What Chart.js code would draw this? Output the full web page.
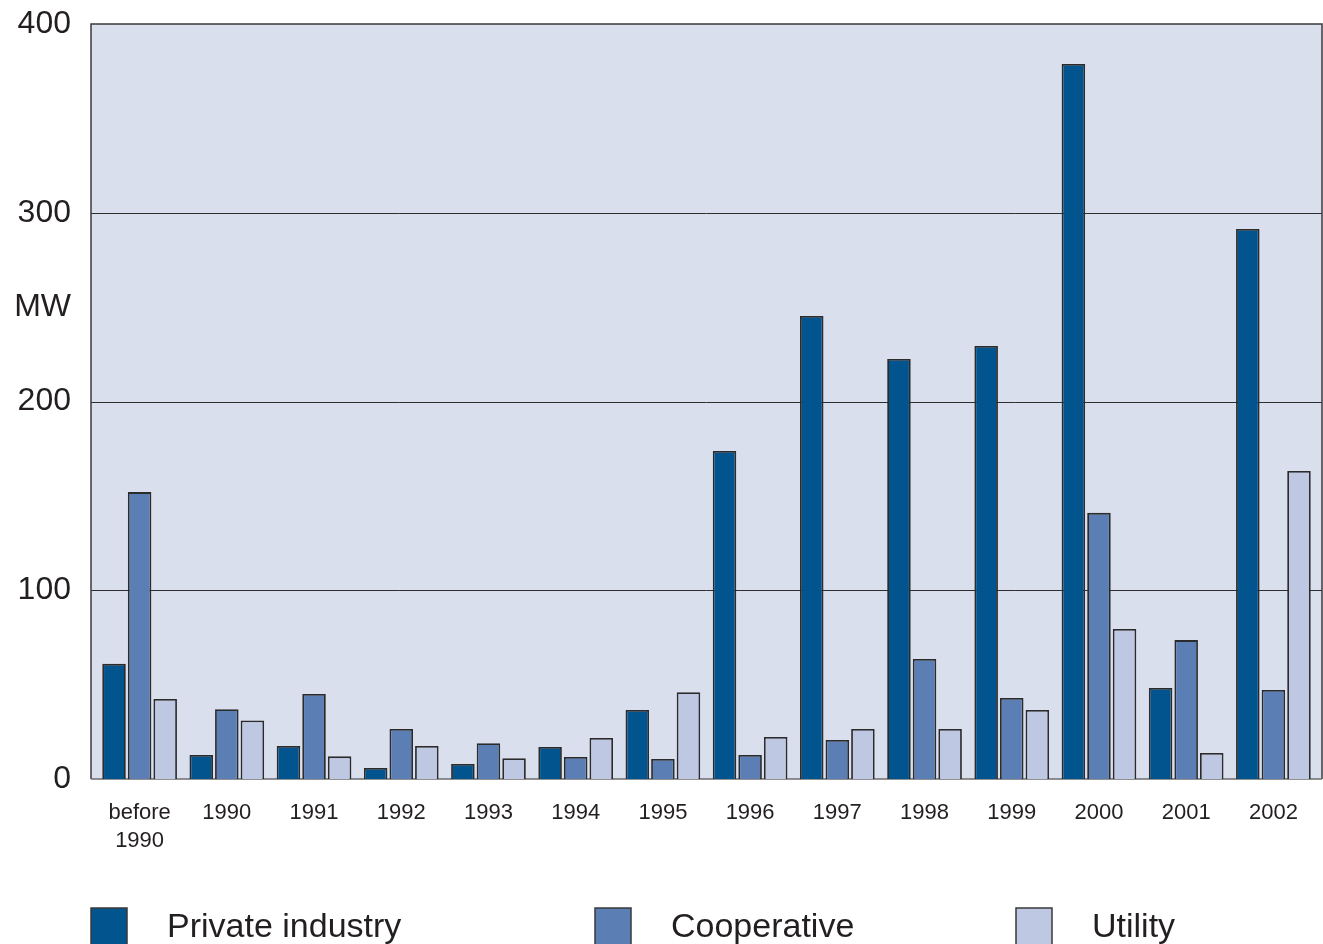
<!DOCTYPE html>
<html>
<head>
<meta charset="utf-8">
<script src="https://cdn.jsdelivr.net/npm/chart.js@4/dist/chart.umd.min.js"></script>
<style>
  html, body { margin: 0; padding: 0; background: #fff; }
  #wrap { position: relative; width: 1323px; height: 944px; }
</style>
</head>
<body>
<div id="wrap"><canvas id="mwChart"></canvas></div>
<script>
// Installed capacity per year (MW)
const years = [['before', '1990'], '1990', '1991', '1992', '1993', '1994', '1995',
  '1996', '1997', '1998', '1999', '2000', '2001', '2002'];
const privateIndustry = [61, 12.7, 17.5, 5.8, 8, 17, 36.6, 173.8, 245.3, 222.5, 229.4, 378.8, 48.2, 291.4];
const cooperative = [152, 37, 45, 26.5, 19, 11.7, 10.6, 12.7, 20.7, 63.6, 42.9, 141, 73.6, 47.2];
const utility = [42.4, 31, 12, 17.5, 11, 21.7, 46, 22.3, 26.5, 26.5, 36.6, 79.5, 13.8, 163.2];
const yTicks = [0, 100, 200, 300, 400];
const seriesNames = ['Private industry', 'Cooperative', 'Utility'];
const seriesColors = ['#02548f', '#5b7fb4', '#bec8e2'];

const fontFamily = '"Liberation Sans", Arial, sans-serif';
const textColor = '#231f20';
const inset = 5; // frame sits a little outside the category band

// plot background, grid lines, frame, y labels and the "MW" unit label
const plotFrame = {
  id: 'plotFrame',
  beforeDraw(chart) {
    const { ctx, chartArea: a } = chart;
    ctx.save();
    ctx.fillStyle = '#dadfee';
    ctx.fillRect(a.left - inset, a.top, a.right - a.left + 2 * inset, a.bottom - a.top);
    ctx.restore();
  },
  beforeDatasetsDraw(chart) {
    const { ctx, chartArea: a, scales } = chart;
    const yScale = scales.y;
    const l = a.left - inset, r = a.right + inset;
    ctx.save();
    ctx.strokeStyle = '#2e2e2e';
    ctx.lineWidth = 1;
    yScale.ticks.filter(t => t.value > 0 && t.value < 400).forEach(t => {
      const y = Math.round(yScale.getPixelForValue(t.value)) + 0.5;
      ctx.beginPath();
      ctx.moveTo(l, y);
      ctx.lineTo(r, y);
      ctx.stroke();
    });
    ctx.strokeStyle = '#3a3a3a';
    ctx.lineWidth = 1.5;
    ctx.beginPath();
    ctx.moveTo(l, a.bottom);
    ctx.lineTo(l, a.top);
    ctx.lineTo(r, a.top);
    ctx.lineTo(r, a.bottom);
    ctx.stroke();
    ctx.strokeStyle = '#6d6d6d';
    ctx.beginPath();
    ctx.moveTo(l, a.bottom);
    ctx.lineTo(r, a.bottom);
    ctx.stroke();

    ctx.fillStyle = textColor;
    ctx.font = '32px ' + fontFamily;
    ctx.textAlign = 'right';
    ctx.textBaseline = 'middle';
    yScale.ticks.forEach(t => {
      ctx.fillText(String(t.value), 71, yScale.getPixelForValue(t.value));
    });
    ctx.fillText('MW', 71, yScale.getPixelForValue(250));
    ctx.restore();
  }
};

// legend row at the bottom of the canvas
const bottomLegend = {
  id: 'bottomLegend',
  afterDraw(chart) {
    const { ctx } = chart;
    const xs = [91, 595, 1016];
    ctx.save();
    chart.data.datasets.forEach((ds, i) => {
      ctx.fillStyle = ds.backgroundColor;
      ctx.fillRect(xs[i], 908, 36, 40);
      ctx.strokeStyle = '#3a3a3a';
      ctx.lineWidth = 1.5;
      ctx.strokeRect(xs[i], 908, 36, 40);
      ctx.fillStyle = textColor;
      ctx.font = '34px ' + fontFamily;
      ctx.textAlign = 'left';
      ctx.textBaseline = 'middle';
      ctx.fillText(ds.label, xs[i] + 76, 928);
    });
    ctx.restore();
  }
};

const ctx = document.getElementById('mwChart').getContext('2d');
const mwChart = new Chart(ctx, {
  type: 'bar',
  data: {
    labels: years,
    datasets: [privateIndustry, cooperative, utility].map((vals, i) => ({
      label: seriesNames[i],
      data: vals,
      backgroundColor: seriesColors[i],
      borderColor: '#2b2b2b',
      borderWidth: 1.8,
      categoryPercentage: 0.88,
      barPercentage: 0.92
    }))
  },
  options: {
    responsive: true,
    maintainAspectRatio: false,
    animation: false,
    layout: { padding: { top: 24, right: 6, left: 0, bottom: 0 } },
    plugins: {
      legend: { display: false },
      tooltip: { enabled: false }
    },
    scales: {
      x: {
        grid: { display: false, drawTicks: false },
        border: { display: false },
        ticks: {
          color: textColor,
          font: { family: fontFamily, size: 22, lineHeight: 1.27 },
          padding: 20,
          maxRotation: 0,
          autoSkip: false
        },
        afterFit(scale) { scale.height = 165; }
      },
      y: {
        min: 0,
        max: 400,
        afterBuildTicks(scale) { scale.ticks = yTicks.map(v => ({ value: v })); },
        grid: { display: false, drawTicks: false },
        border: { display: false },
        ticks: { display: false },
        afterFit(scale) { scale.width = 96; }
      }
    }
  },
  plugins: [plotFrame, bottomLegend]
});
</script>
</body>
</html>
